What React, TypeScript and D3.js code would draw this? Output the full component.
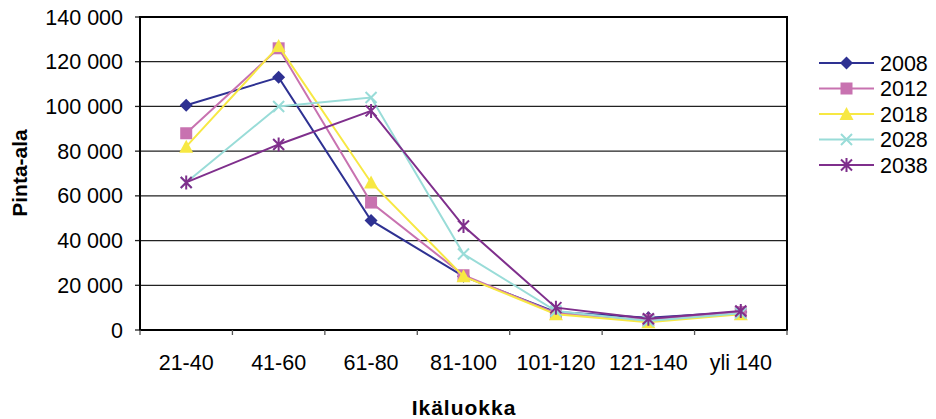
import React from "react";
import * as d3 from "d3";

const categories = ["21-40", "41-60", "61-80", "81-100", "101-120", "121-140", "yli 140"];
const seriesNames = ["2008", "2012", "2018", "2028", "2038"];
const values2008 = [100500, 113000, 49000, 24000, 8000, 5500, 8000];
const values2012 = [88000, 126000, 57000, 24500, 7500, 4500, 8000];
const values2018 = [82000, 127000, 66000, 24000, 7000, 3500, 7000];
const values2028 = [66000, 100000, 104000, 34000, 8500, 4000, 7500];
const values2038 = [66000, 83000, 98000, 46500, 10000, 5000, 8500];
const yTicks = [0, 20000, 40000, 60000, 80000, 100000, 120000, 140000];
const colors = ["#2e3192", "#c872b0", "#f7e843", "#99dcd8", "#7f2f8c"];
const markers = ["diamond", "square", "triangle", "x", "star"];

const allValues = [values2008, values2012, values2018, values2028, values2038];

const W = 936, H = 419;
const M = { left: 140, top: 17, right: 787, bottom: 330 };

const fmt = (v: number) => d3.format(",")(v).replace(/,/g, " ");

function Marker({ type, x, y, color }: { type: string; x: number; y: number; color: string }) {
  const s = 6.5;
  if (type === "diamond")
    return <path d={`M${x},${y - s}L${x + s},${y}L${x},${y + s}L${x - s},${y}Z`} fill={color} />;
  if (type === "square")
    return <rect x={x - 6} y={y - 6} width={12} height={12} fill={color} />;
  if (type === "triangle")
    return <path d={`M${x},${y - 7}L${x + 7},${y + 6}L${x - 7},${y + 6}Z`} fill={color} />;
  if (type === "x")
    return (
      <path d={`M${x - 5.5},${y - 5.5}L${x + 5.5},${y + 5.5}M${x - 5.5},${y + 5.5}L${x + 5.5},${y - 5.5}`} stroke={color} strokeWidth={2} />
    );
  return (
    <path
      d={`M${x - 5.5},${y - 5.5}L${x + 5.5},${y + 5.5}M${x - 5.5},${y + 5.5}L${x + 5.5},${y - 5.5}M${x},${y - 7}L${x},${y + 7}`}
      stroke={color}
      strokeWidth={2}
    />
  );
}

export default function App() {
  const x = d3.scaleBand().domain(categories).range([M.left, M.right]);
  const y = d3.scaleLinear().domain([0, 140000]).range([M.bottom, M.top]);
  const line = d3
    .line<number>()
    .x((_, i) => (x(categories[i]) as number) + x.bandwidth() / 2)
    .y((d) => y(d));
  const font = "'Liberation Sans', Arial, sans-serif";
  const fs = 21.5;
  return (
    <svg width={W} height={H} style={{ position: "absolute", left: 0, top: 0, fontFamily: font }}>
      <rect x={0} y={0} width={W} height={H} fill="#fff" />
      {yTicks.map((t) => (
        <g key={t}>
          {t > 0 && t < 140000 && (
            <line x1={M.left} x2={M.right} y1={y(t)} y2={y(t)} stroke="#222" strokeWidth={1.3} />
          )}
          <line x1={M.left - 5} x2={M.left} y1={y(t)} y2={y(t)} stroke="#222" strokeWidth={1.3} />
          <text x={123} y={y(t)} dy="0.35em" textAnchor="end" fontSize={fs} fill="#000">
            {fmt(t)}
          </text>
        </g>
      ))}
      <rect x={M.left} y={M.top} width={M.right - M.left} height={M.bottom - M.top} fill="none" stroke="#000" strokeWidth={2} />
      {categories.map((c) => (
        <g key={c}>
          <line
            x1={x(c) as number}
            x2={x(c) as number}
            y1={M.bottom}
            y2={M.bottom + 5}
            stroke="#555"
            strokeWidth={1.3}
          />
          <text x={(x(c) as number) + x.bandwidth() / 2} y={370} textAnchor="middle" fontSize={fs} fill="#000">
            {c}
          </text>
        </g>
      ))}
      <line x1={M.right} x2={M.right} y1={M.bottom} y2={M.bottom + 5} stroke="#555" strokeWidth={1.3} />
      {allValues.map((vals, si) => (
        <g key={si}>
          <path d={line(vals) || ""} fill="none" stroke={colors[si]} strokeWidth={2} />
          {vals.map((v, i) => (
            <Marker
              key={i}
              type={markers[si]}
              x={(x(categories[i]) as number) + x.bandwidth() / 2}
              y={y(v)}
              color={colors[si]}
            />
          ))}
        </g>
      ))}
      <text
        transform={`translate(26.5,173) rotate(-90)`}
        textAnchor="middle"
        fontSize={21}
        fontWeight="bold"
        fill="#000"
      >
        Pinta-ala
      </text>
      <text x={464} y={415} textAnchor="middle" fontSize={21} fontWeight="bold" letterSpacing={1} fill="#000">
        Ikäluokka
      </text>
      {seriesNames.map((n, i) => {
        const ly = 63 + i * 25.5;
        return (
          <g key={n}>
            <line x1={819} x2={874} y1={ly} y2={ly} stroke={colors[i]} strokeWidth={2} />
            <Marker type={markers[i]} x={846.5} y={ly} color={colors[i]} />
            <text x={880} y={ly} dy="0.35em" fontSize={fs} fill="#000">
              {n}
            </text>
          </g>
        );
      })}
    </svg>
  );
}
